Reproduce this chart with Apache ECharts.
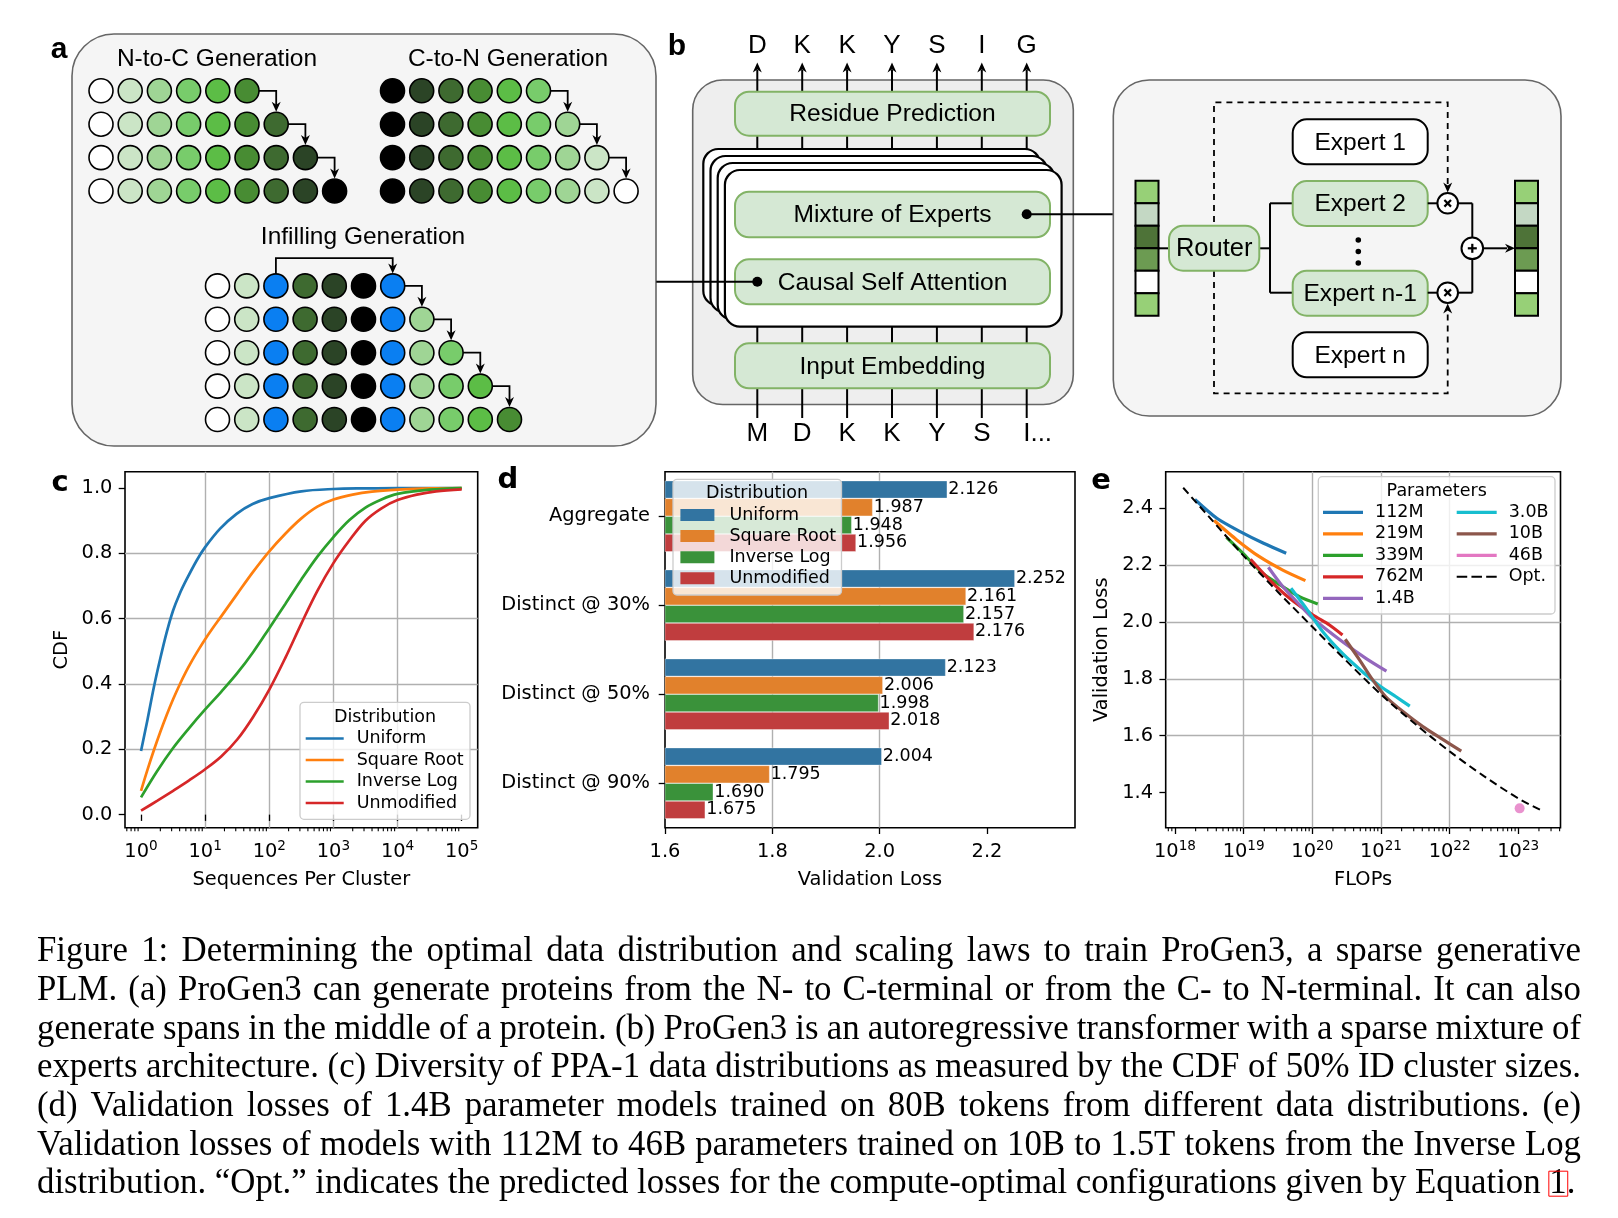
<!DOCTYPE html>
<html>
<head>
<meta charset="utf-8">
<title>ProGen3 Figure 1</title>
<script src="https://cdn.jsdelivr.net/npm/echarts@6/dist/echarts.min.js"></script>
<style>
html,body{margin:0;padding:0;background:#ffffff;}
#chart{width:1618px;height:1218px;}
</style>
</head>
<body>
<div id="chart"></div>
<script>
// ================= DATA =================
// Panel c: CDF of cluster sizes, points are [log10(sequences per cluster), CDF]
const cdfNames = ['Uniform', 'Square Root', 'Inverse Log', 'Unmodified'];
const cdfUniform = [[0,0.195],[0.1,0.29],[0.2,0.39],[0.3,0.478],[0.4,0.558],[0.5,0.625],[0.6,0.675],[0.71,0.72],[0.87,0.779],[1.0,0.819],[1.23,0.875],[1.49,0.921],[1.74,0.951],[2.0,0.969],[2.5,0.99],[3.0,0.997],[3.5,0.999],[4.0,1.0],[5.0,1.0]];
const cdfSquareRoot = [[0,0.073],[0.1,0.137],[0.2,0.197],[0.3,0.253],[0.4,0.305],[0.5,0.353],[0.6,0.397],[0.7,0.437],[0.8,0.473],[0.9,0.506],[1.0,0.537],[1.1,0.566],[1.25,0.607],[1.5,0.676],[1.75,0.744],[2.0,0.806],[2.25,0.86],[2.5,0.907],[2.75,0.943],[3.0,0.965],[3.3,0.98],[3.6,0.989],[4.0,0.995],[4.5,0.999],[5.0,1.0]];
const cdfInverseLog = [[0,0.053],[0.25,0.133],[0.5,0.204],[0.75,0.265],[1.0,0.322],[1.25,0.376],[1.5,0.433],[1.75,0.498],[2.0,0.571],[2.25,0.645],[2.5,0.72],[2.75,0.79],[3.0,0.85],[3.25,0.902],[3.5,0.94],[3.75,0.965],[4.0,0.982],[4.5,0.995],[5.0,1.0]];
const cdfUnmodified = [[0,0.012],[0.25,0.042],[0.5,0.073],[0.75,0.105],[1.0,0.139],[1.25,0.178],[1.5,0.23],[1.75,0.3],[2.0,0.383],[2.25,0.48],[2.5,0.585],[2.75,0.685],[3.0,0.77],[3.25,0.84],[3.5,0.9],[3.75,0.938],[4.0,0.963],[4.3,0.98],[4.6,0.99],[5.0,0.996]];
const cTickX = [1, 10, 100, 1000, 10000, 100000];
const cTickY = [0, 0.2, 0.4, 0.6, 0.8, 1.0];

// Panel d: validation loss of 1.4B models per data distribution
const lossCategories = ['Aggregate', 'Distinct @ 30%', 'Distinct @ 50%', 'Distinct @ 90%'];
const lossUniform = [2.126, 2.252, 2.123, 2.004];
const lossSquareRoot = [1.987, 2.161, 2.006, 1.795];
const lossInverseLog = [1.948, 2.157, 1.998, 1.690];
const lossUnmodified = [1.956, 2.176, 2.018, 1.675];
const dTickX = [1.6, 1.8, 2.0, 2.2];

// Panel e: scaling, points are [log10(FLOPs), validation loss]
const paramNames = ['112M', '219M', '339M', '762M', '1.4B', '3.0B', '10B', '46B', 'Opt.'];
const run112M = [[18.29,2.430],[18.61,2.364],[18.95,2.317],[19.29,2.276],[19.62,2.241]];
const run219M = [[18.57,2.356],[18.90,2.288],[19.23,2.229],[19.57,2.182],[19.90,2.145]];
const run339M = [[18.75,2.297],[18.99,2.241],[19.28,2.170],[19.57,2.124],[19.82,2.088],[20.08,2.063]];
const run762M = [[19.10,2.220],[19.38,2.147],[19.67,2.083],[20.01,2.024],[20.25,1.989],[20.44,1.954]];
const run1_4B = [[19.36,2.192],[19.57,2.124],[19.82,2.059],[20.01,2.012],[20.44,1.930],[20.78,1.872],[21.08,1.827]];
const run3_0B = [[19.69,2.118],[19.91,2.048],[20.15,1.966],[20.44,1.889],[20.73,1.825],[21.0,1.772],[21.22,1.737],[21.42,1.704]];
const run10B = [[20.48,1.939],[20.69,1.866],[20.88,1.796],[21.07,1.737],[21.32,1.685],[21.61,1.632],[21.90,1.587],[22.17,1.546]];
const run46B = [[23.02,1.345]];
const optimal = [[18.12,2.471],[18.5,2.368],[19.0,2.232],[19.5,2.105],[20.0,1.983],[20.5,1.862],[21.0,1.745],[21.5,1.641],[22.0,1.545],[22.5,1.458],[23.0,1.38],[23.36,1.335]];
const eTickX = [1e18, 1e19, 1e20, 1e21, 1e22, 1e23];
const eTickY = [1.4, 1.6, 1.8, 2.0, 2.2, 2.4];

// Panel a: residue shade codes per generated row
const nToCRows = [
  ['W','P1','P2','M','G','D1'],
  ['W','P1','P2','M','G','D1','D2'],
  ['W','P1','P2','M','G','D1','D2','D3'],
  ['W','P1','P2','M','G','D1','D2','D3','K']
];
const cToNRows = [
  ['K','D3','D2','D1','G','M'],
  ['K','D3','D2','D1','G','M','P2'],
  ['K','D3','D2','D1','G','M','P2','P1'],
  ['K','D3','D2','D1','G','M','P2','P1','W']
];
const infillRows = [
  ['W','P1','B','D2','D3','K','B'],
  ['W','P1','B','D2','D3','K','B','P2'],
  ['W','P1','B','D2','D3','K','B','P2','M'],
  ['W','P1','B','D2','D3','K','B','P2','M','G'],
  ['W','P1','B','D2','D3','K','B','P2','M','G','D1']
];
// Panel b: residues
const outputResidues = ['D','K','K','Y','S','I','G'];
const inputResidues = ['M','D','K','K','Y','S','I'];
// MoE token vector shades
const tokenVector = ['#97d077','#c4d8c4','#4e7338','#6c9b52','#ffffff','#97d077'];

const captionLines = [
  'Figure 1:  Determining the optimal data distribution and scaling laws to train ProGen3, a sparse generative',
  'PLM. (a) ProGen3 can generate proteins from the N- to C-terminal or from the C- to N-terminal. It can also',
  'generate spans in the middle of a protein. (b) ProGen3 is an autoregressive transformer with a sparse mixture of',
  'experts architecture. (c) Diversity of PPA-1 data distributions as measured by the CDF of 50% ID cluster sizes.',
  '(d) Validation losses of 1.4B parameter models trained on 80B tokens from different data distributions. (e)',
  'Validation losses of models with 112M to 46B parameters trained on 10B to 1.5T tokens from the Inverse Log',
  'distribution. \u201cOpt.\u201d indicates the predicted losses for the compute-optimal configurations given by Equation 1.'
];

// ================= STYLE =================
const FONT = "'DejaVu Sans', sans-serif";
const DFONT = "'Liberation Sans', Arial, sans-serif";
const SERIF = "'Liberation Serif', 'Times New Roman', serif";
const TICK = 19.4, LEG = 17.5;
const cColors = ['#1f77b4', '#ff7f0e', '#2ca02c', '#d62728'];
const dColors = ['#3274a1', '#e1812c', '#3a923a', '#c03d3e'];
const eColors = ['#1f77b4', '#ff7f0e', '#2ca02c', '#d62728', '#9467bd', '#17becf', '#8c564b', '#e377c2', '#000000'];
const shade = {W:'#ffffff', P1:'#cbe5c6', P2:'#9fd595', M:'#78cc6b', G:'#5cbd46', D1:'#488c33', D2:'#3e6a30', D3:'#2b4426', K:'#000000', B:'#0a7ff2'};
const GREEN_FILL = '#d5e8d4', GREEN_STROKE = '#82b366';
const CIRC = 24;

const chart = echarts.init(document.getElementById('chart'), null, {renderer: 'canvas', width: 1618, height: 1218});

// ================= helpers =================
const G = [];
function rect(x, y, w, h, r, fill, stroke, lw, z, dash) {
  G.push({type:'rect', silent:true, z: z || 0, shape:{x:x, y:y, width:w, height:h, r:r}, style:{fill:fill, stroke:stroke, lineWidth:lw, lineDash:dash || null}});
}
function seg(x1, y1, x2, y2, lw, dash, z) {
  G.push({type:'line', silent:true, z: z || 0, shape:{x1:x1, y1:y1, x2:x2, y2:y2}, style:{stroke:'#000', lineWidth:lw || 2, lineDash:dash || null}});
}
function poly(points, lw, dash, z) {
  G.push({type:'polyline', silent:true, z: z || 0, shape:{points:points}, style:{stroke:'#000', fill:null, lineWidth:lw || 2, lineDash:dash || null}});
}
function txt(x, y, t, size, opts, z) {
  G.push({type:'text', silent:true, z: z || 0, x:x, y:y, style:Object.assign({text:t, fontSize:size, fontFamily:DFONT, fill:'#000', align:'center', verticalAlign:'middle'}, opts || {})});
}
function circ(cx, cy, r, fill, lw, z) {
  G.push({type:'circle', silent:true, z: z || 0, shape:{cx:cx, cy:cy, r:r}, style:{fill:fill, stroke:'#000', lineWidth:lw || 0}});
}
function head(x, y, dir, z) { // arrow head with tip at (x,y)
  let pts;
  if (dir === 'up') pts = [[x-4.5,y+10],[x,y],[x+4.5,y+10],[x,y+7]];
  else if (dir === 'down') pts = [[x-4.5,y-10],[x,y],[x+4.5,y-10],[x,y-7]];
  else pts = [[x-10,y-4.5],[x,y],[x-10,y+4.5],[x-7,y]];
  G.push({type:'polygon', silent:true, z: z || 0, shape:{points:pts}, style:{fill:'#000'}});
}
function greenBox(x, y, w, h, label, size) {
  rect(x, y, w, h, 14, GREEN_FILL, GREEN_STROKE, 2);
  if (label) txt(x + w / 2, y + h / 2 + 1, label, size || 24.6);
}
function whiteBox(x, y, w, h, label, size) {
  rect(x, y, w, h, 14, '#ffffff', '#000', 2);
  txt(x + w / 2, y + h / 2 + 1, label, size || 24.6);
}

// ================= PANEL a (frame & titles) =================
rect(72, 34, 584, 412, 42, '#f5f5f5', '#666666', 1.6);
txt(59, 50, 'a', 30, {fontWeight:'bold'});
txt(217, 59, 'N-to-C Generation', 24.5);
txt(508, 59, 'C-to-N Generation', 24.5);
txt(363, 237.5, 'Infilling Generation', 24.5);

// ================= PANEL b =================
rect(692.7, 80, 380.6, 324.5, 30, '#eeeeee', '#666666', 1.6);
txt(677, 47, 'b', 30, {fontWeight:'bold'});
const colX = i => 757.3 + i * 44.9;
outputResidues.forEach((r, i) => {
  const x = colX(i);
  seg(x, 92, x, 70, 2);
  head(x, 62.5, 'up');
  txt(x, 46, r, 26);
  seg(x, 135, x, 152, 2);
});
for (let k = 0; k < 4; k++) {
  rect(703.3 + k * 7.2, 149 + k * 7, 336.7, 156.7, 15, '#ffffff', '#000', 2.2);
}
inputResidues.forEach((r, i) => {
  const x = colX(i);
  seg(x, 326, x, 344, 2);
  seg(x, 388, x, 418, 2);
  if (i === inputResidues.length - 1) {
    txt(x - 3.5, 434, r + '...', 26, {align:'left'});
  } else {
    txt(x, 434, r, 26);
  }
});
greenBox(735, 91.7, 315, 44, 'Residue Prediction');
greenBox(735, 191.7, 315, 45.6, 'Mixture of Experts');
greenBox(735, 259.3, 315, 45, 'Causal Self Attention');
greenBox(735, 343.3, 315, 45, 'Input Embedding');
// connectors
seg(656.3, 281.7, 757.3, 281.7, 2);
circ(757.3, 281.7, 5, '#000');
seg(1026.7, 214.3, 1113.3, 214.3, 2);
circ(1026.7, 214.3, 5, '#000');

// ================= MoE panel =================
rect(1113.3, 80, 447.7, 336, 36, '#f5f5f5', '#666666', 1.6);
poly([[1447.7,184],[1447.7,102.3],[1214,102.3],[1214,393.3],[1447.7,393.3],[1447.7,312]], 1.8, [6,5]);
head(1447.7, 192.6, 'down');
head(1447.7, 303.4, 'up');
const cellH = 135 / tokenVector.length;
[1135.5, 1515].forEach(vx => {
  tokenVector.forEach((c, i) => rect(vx, 180.7 + i * cellH, 23, cellH, 0, c, '#000', 2));
});
seg(1158.5, 248.3, 1169, 248.3, 2);
seg(1259.3, 248.3, 1270, 248.3, 2);
seg(1270, 203.3, 1270, 292.7, 2);
seg(1270, 203.3, 1292.7, 203.3, 2);
seg(1270, 292.7, 1292.7, 292.7, 2);
greenBox(1169, 225.7, 90.3, 45, 'Router', 25.5);
whiteBox(1292.7, 119.3, 135, 45, 'Expert 1', 24.6);
greenBox(1292.7, 181, 135, 45, 'Expert 2', 24.6);
greenBox(1292.7, 270.7, 135, 45, 'Expert n-1', 24.6);
whiteBox(1292.7, 332.3, 135, 45, 'Expert n', 24.6);
[240, 251.5, 263].forEach(y => circ(1358.3, y, 2.8, '#000'));
seg(1427.7, 203.3, 1438, 203.3, 2);
seg(1427.7, 292.7, 1438, 292.7, 2);
seg(1457.5, 203.3, 1472.3, 203.3, 2);
seg(1457.5, 292.7, 1472.3, 292.7, 2);
seg(1472.3, 203.3, 1472.3, 292.7, 2);
[203.3, 292.7].forEach(y => {
  circ(1447.7, y, 10.3, '#ffffff', 2);
  seg(1444.4, y - 3.3, 1451, y + 3.3, 2.2);
  seg(1444.4, y + 3.3, 1451, y - 3.3, 2.2);
});
circ(1472.3, 248.3, 10.8, '#ffffff', 2);
seg(1467.8, 248.3, 1476.8, 248.3, 2.2);
seg(1472.3, 243.8, 1472.3, 252.8, 2.2);
seg(1483.1, 248.3, 1507, 248.3, 2);
head(1515, 248.3, 'right');

// ================= legend frames & panel letters for c,d,e =================
function legendFrame(x, y, w, h, title, tx, ty) {
  rect(x, y, w, h, 4, 'rgba(255,255,255,0.8)', '#cccccc', 1.3, 3);
  txt(tx, ty, title, LEG, {fontFamily:FONT}, 5);
}
legendFrame(300, 702.3, 170, 117, 'Distribution', 385, 717);
legendFrame(673, 479.3, 168.5, 115.7, 'Distribution', 757, 493.5);
legendFrame(1318.3, 476.7, 236.7, 137.3, 'Parameters', 1436.7, 491);
txt(60, 483, 'c', 29, {fontWeight:'bold', fontFamily:FONT});
txt(508, 480, 'd', 29, {fontWeight:'bold', fontFamily:FONT});
txt(1101, 481, 'e', 29, {fontWeight:'bold', fontFamily:FONT});

// ================= caption (justified) =================
const CAP_SIZE = 34.8;
const mctx = document.createElement('canvas').getContext('2d');
mctx.font = CAP_SIZE + 'px ' + SERIF;
const capLeft = 37, capRight = 1581, capTop = 952, capStep = 38.7;
captionLines.forEach((ln, li) => {
  const words = ln.split(/ +/);
  const ws = words.map(w => mctx.measureText(w).width);
  const sum = ws.reduce((a, b) => a + b, 0);
  const spaceW = mctx.measureText(' ').width;
  const isLast = li === captionLines.length - 1;
  let gap = isLast ? spaceW : (capRight - capLeft - sum) / (words.length - 1);
  if (gap < spaceW * 0.5) gap = spaceW * 0.5;
  let x = capLeft;
  const y = capTop + li * capStep;
  words.forEach((w, wi) => {
    G.push({type:'text', silent:true, z:1, x:x, y:y, style:{text:w, fontSize:CAP_SIZE, fontFamily:SERIF, fill:'#000', align:'left', verticalAlign:'middle'}});
    if (isLast && wi === words.length - 1) {
      const w1 = mctx.measureText('1').width;
      G.push({type:'rect', silent:true, z:1, shape:{x:x - 0.5, y:y - 13, width:w1 + 1.5, height:25}, style:{fill:null, stroke:'#ff0000', lineWidth:1}});
    }
    x += ws[wi] + gap;
  });
});

// ================= axes helpers =================
function powLabel(v) {
  const e = Math.round(Math.log10(v));
  return '{b|10}{s|' + e + '}';
}
const powRich = {
  b: {fontSize:TICK, fontFamily:FONT, color:'#000', lineHeight:25, verticalAlign:'middle'},
  s: {fontSize:13.6, fontFamily:FONT, color:'#000', lineHeight:14, verticalAlign:'top'}
};
const gridLine = {show:true, showMinLine:false, showMaxLine:false, lineStyle:{color:'#b0b0b0', width:1.4}};
const tickStyle = {color:'#000', width:1.3};
const nameStyle = {color:'#000', fontSize:TICK, fontFamily:FONT};
function minorTickValues(lo, hi) {
  const out = [];
  for (let e = Math.floor(lo); e <= Math.ceil(hi); e++) {
    for (let k = 2; k <= 9; k++) {
      const l = Math.log10(k) + e;
      if (l > lo && l < hi) out.push(k * Math.pow(10, e));
    }
  }
  return out;
}
function minorTickRender(params, api) {
  const cs = params.coordSys;
  const p = api.coord([api.value(0), api.value(1)]);
  const yb = cs.y + cs.height;
  return {type:'line', shape:{x1:p[0], y1:yb, x2:p[0], y2:yb + 3.6}, style:{stroke:'#000', lineWidth:1.1}};
}

const cXMin = Math.pow(10, -0.25), cXMax = Math.pow(10, 5.25);
const eXMin = Math.pow(10, 17.865), eXMax = Math.pow(10, 23.615);

// ================= panel a circle grids =================
const SP = 29.2, RS = 33.4;
function circleGrid(x0, y0, slots, rows) {
  return {left:x0 - SP / 2, top:y0 - RS / 2, width:SP * slots, height:RS * rows, show:false, outerBoundsMode:'none'};
}
function hiddenX(gi, slots) { return {type:'value', gridIndex:gi, min:-0.5, max:slots - 0.5, show:false}; }
function hiddenY(gi, rows) { return {type:'value', gridIndex:gi, min:-0.5, max:rows - 0.5, inverse:true, show:false}; }
function circleData(rows) {
  const out = [];
  rows.forEach((row, r) => row.forEach((code, s) => out.push({value:[s, r], itemStyle:{color:shade[code]}})));
  return out;
}
function stepArrowData(rows) {
  return rows.slice(0, rows.length - 1).map((row, r) => [row.length - 1, r]);
}
function stepArrowRender(params, api) {
  const s = api.value(0), r = api.value(1);
  const a = api.coord([s, r]), b = api.coord([s + 1, r]), c = api.coord([s + 1, r + 1]);
  const R = CIRC / 2;
  const x0 = a[0] + R, y0 = a[1], xt = b[0], yt = c[1] - R - 0.5;
  return {type:'group', children:[
    {type:'polyline', shape:{points:[[x0, y0], [xt, y0], [xt, yt - 6]]}, style:{stroke:'#000', lineWidth:1.8, fill:null}},
    {type:'polygon', shape:{points:[[xt - 4.5, yt - 10], [xt, yt], [xt + 4.5, yt - 10], [xt, yt - 7]]}, style:{fill:'#000'}}
  ]};
}
function bracketRender(params, api) {
  const s0 = api.value(0), s1 = api.value(1), r = api.value(2);
  const a = api.coord([s0, r]), b = api.coord([s1, r]), t = api.coord([s0, r - 0.83]);
  const R = CIRC / 2;
  const yt = b[1] - R - 0.5;
  return {type:'group', children:[
    {type:'polyline', shape:{points:[[a[0], a[1] - R], [a[0], t[1]], [b[0], t[1]], [b[0], yt - 6]]}, style:{stroke:'#000', lineWidth:1.8, fill:null}},
    {type:'polygon', shape:{points:[[b[0] - 4.5, yt - 10], [b[0], yt], [b[0] + 4.5, yt - 10], [b[0], yt - 7]]}, style:{fill:'#000'}}
  ]};
}
const nToCSlots = Math.max(...nToCRows.map(r => r.length));
const cToNSlots = Math.max(...cToNRows.map(r => r.length));
const infillSlots = Math.max(...infillRows.map(r => r.length));
const firstSpan = infillRows[0].indexOf('B'), lastSpan = infillRows[0].lastIndexOf('B');

// ================= legends =================
function legendCfg(names, colors, left, top, iw, ih, gap, pad, icons) {
  return {
    show:true, orient:'vertical', left:left, top:top, padding:0, itemGap:gap, itemWidth:iw, itemHeight:ih,
    selectedMode:false, backgroundColor:'transparent', borderWidth:0, z:6,
    data:names.map((n, i) => ({name:n, icon:icons ? icons[i] : 'rect', itemStyle:{color:colors[i], borderWidth:0, opacity:1}})),
    textStyle:{color:'#000', fontSize:LEG, fontFamily:FONT, lineHeight:18, padding:[0, 0, 0, pad]}
  };
}
const dashIcon = 'path://M0,0h10v2h-10zM14,0h10v2h-10zM28,0h10v2h-10z';

// ================= series =================
const series = [];
[cdfUniform, cdfSquareRoot, cdfInverseLog, cdfUnmodified].forEach((set, i) => {
  series.push({type:'line', name:cdfNames[i], xAxisIndex:0, yAxisIndex:0, silent:true,
    data:set.map(p => [Math.pow(10, p[0]), p[1]]), showSymbol:false, symbol:'none', smooth:0.35,
    lineStyle:{color:cColors[i], width:2.7}, itemStyle:{color:cColors[i]}});
});
series.push({type:'custom', name:'c-minor', xAxisIndex:0, yAxisIndex:0, silent:true, clip:false,
  data:minorTickValues(-0.25, 5.25).map(v => [v, 0]), renderItem:minorTickRender});

[lossUniform, lossSquareRoot, lossInverseLog, lossUnmodified].forEach((set, i) => {
  series.push({type:'bar', name:cdfNames[i], xAxisIndex:1, yAxisIndex:1, silent:true, data:set,
    barGap:'0%', barCategoryGap:'20%',
    itemStyle:{color:dColors[i], borderColor:'rgba(255,255,255,0.6)', borderWidth:0.6},
    label:{show:true, position:'right', distance:1, formatter:p => p.value.toFixed(3), fontSize:LEG, fontFamily:FONT, color:'#000'}});
});

const eRuns = [run112M, run219M, run339M, run762M, run1_4B, run3_0B, run10B];
eRuns.forEach((set, i) => {
  series.push({type:'line', name:paramNames[i], xAxisIndex:2, yAxisIndex:2, silent:true,
    data:set.map(p => [Math.pow(10, p[0]), p[1]]), showSymbol:false, symbol:'none', smooth:0.25,
    lineStyle:{color:eColors[i], width:3.2, cap:'butt'}, itemStyle:{color:eColors[i]}});
});
series.push({type:'scatter', name:paramNames[7], xAxisIndex:2, yAxisIndex:2, silent:true,
  data:run46B.map(p => [Math.pow(10, p[0]), p[1]]), symbol:'circle', symbolSize:10, itemStyle:{color:eColors[7]}});
series.push({type:'line', name:paramNames[8], xAxisIndex:2, yAxisIndex:2, silent:true,
  data:optimal.map(p => [Math.pow(10, p[0]), p[1]]), showSymbol:false, symbol:'none', smooth:0.3,
  lineStyle:{color:'#000', width:2, type:[8, 4.5]}, itemStyle:{color:'#000'}});
series.push({type:'custom', name:'e-minor', xAxisIndex:2, yAxisIndex:2, silent:true, clip:false,
  data:minorTickValues(17.865, 23.615).map(v => [v, 1.5]), renderItem:minorTickRender});

// panel a
[[nToCRows, 3], [cToNRows, 4], [infillRows, 5]].forEach(([rows, gi]) => {
  series.push({type:'scatter', xAxisIndex:gi, yAxisIndex:gi, silent:true, data:circleData(rows),
    symbol:'circle', symbolSize:CIRC, itemStyle:{borderColor:'#000', borderWidth:1.6, opacity:1}, z:4});
  series.push({type:'custom', xAxisIndex:gi, yAxisIndex:gi, silent:true, clip:false,
    data:stepArrowData(rows), renderItem:stepArrowRender, z:3});
});
series.push({type:'custom', xAxisIndex:5, yAxisIndex:5, silent:true, clip:false,
  data:[[firstSpan, lastSpan, 0]], renderItem:bracketRender, z:3});

// ================= option =================
const option = {
  animation:false,
  backgroundColor:'#ffffff',
  textStyle:{fontFamily:FONT},
  grid:[
    {left:125, top:471.7, width:352.7, height:356, show:true, borderColor:'#000', borderWidth:1.6, backgroundColor:'transparent', outerBoundsMode:'none', containLabel:false},
    {left:665, top:471.7, width:410, height:356, show:true, borderColor:'#000', borderWidth:1.6, backgroundColor:'transparent', outerBoundsMode:'none', containLabel:false},
    {left:1165.7, top:471.7, width:394.8, height:356, show:true, borderColor:'#000', borderWidth:1.6, backgroundColor:'transparent', outerBoundsMode:'none', containLabel:false},
    circleGrid(101, 90.8, nToCSlots, nToCRows.length),
    circleGrid(392.5, 90.8, cToNSlots, cToNRows.length),
    circleGrid(217.5, 285.9, infillSlots, infillRows.length)
  ],
  xAxis:[
    {type:'log', logBase:10, gridIndex:0, min:cXMin, max:cXMax,
      axisLine:{show:false}, axisTick:{show:true, length:6.3, lineStyle:tickStyle, customValues:cTickX},
      axisLabel:{customValues:cTickX, formatter:powLabel, rich:powRich, margin:11.5, color:'#000'},
      splitLine:gridLine, name:'Sequences Per Cluster', nameLocation:'middle', nameGap:43, nameTextStyle:nameStyle, nameMoveOverlap:false},
    {type:'value', gridIndex:1, min:1.6, max:2.364,
      axisLine:{show:false}, axisTick:{show:true, length:6.3, lineStyle:tickStyle, customValues:dTickX},
      axisLabel:{customValues:dTickX, formatter:v => v.toFixed(1), fontSize:TICK, fontFamily:FONT, color:'#000', margin:14.5, lineHeight:20},
      splitLine:gridLine, name:'Validation Loss', nameLocation:'middle', nameGap:43, nameTextStyle:nameStyle, nameMoveOverlap:false},
    {type:'log', logBase:10, gridIndex:2, min:eXMin, max:eXMax,
      axisLine:{show:false}, axisTick:{show:true, length:6.3, lineStyle:tickStyle, customValues:eTickX},
      axisLabel:{customValues:eTickX, formatter:powLabel, rich:powRich, margin:11.5, color:'#000'},
      splitLine:gridLine, name:'FLOPs', nameLocation:'middle', nameGap:43, nameTextStyle:nameStyle, nameMoveOverlap:false},
    hiddenX(3, nToCSlots), hiddenX(4, cToNSlots), hiddenX(5, infillSlots)
  ],
  yAxis:[
    {type:'value', gridIndex:0, min:-0.04, max:1.05,
      axisLine:{show:false}, axisTick:{show:true, length:6.3, lineStyle:tickStyle, customValues:cTickY},
      axisLabel:{customValues:cTickY, formatter:v => v.toFixed(1), fontSize:TICK, fontFamily:FONT, color:'#000', margin:12.6},
      splitLine:gridLine, name:'CDF', nameLocation:'middle', nameRotate:90, nameGap:54, nameTextStyle:nameStyle, nameMoveOverlap:false},
    {type:'category', gridIndex:1, data:lossCategories, inverse:true,
      axisLine:{show:false}, axisTick:{show:true, alignWithLabel:true, length:6.3, lineStyle:tickStyle},
      axisLabel:{fontSize:TICK, fontFamily:FONT, color:'#000', margin:15},
      splitLine:{show:false}},
    {type:'value', gridIndex:2, min:1.277, max:2.5275,
      axisLine:{show:false}, axisTick:{show:true, length:6.3, lineStyle:tickStyle, customValues:eTickY},
      axisLabel:{customValues:eTickY, formatter:v => v.toFixed(1), fontSize:TICK, fontFamily:FONT, color:'#000', margin:12.6},
      splitLine:gridLine, name:'Validation Loss', nameLocation:'middle', nameRotate:90, nameGap:54, nameTextStyle:nameStyle, nameMoveOverlap:false},
    hiddenY(3, nToCRows.length), hiddenY(4, cToNRows.length), hiddenY(5, infillRows.length)
  ],
  legend:[
    legendCfg(cdfNames, cColors, 305.7, 729.5, 38, 2.7, 3.5, 8),
    legendCfg(cdfNames, dColors, 680.4, 506, 34, 12, 3.1, 10),
    legendCfg(paramNames.slice(0, 5), eColors.slice(0, 5), 1323, 503.3, 40, 3.2, 3.5, 7),
    legendCfg(paramNames.slice(5), eColors.slice(5), 1456.7, 503.3, 40, 3.2, 3.5, 7, ['rect', 'rect', 'rect', dashIcon])
  ],
  graphic:{elements:G},
  series:series
};
chart.setOption(option);
</script>
</body>
</html>
